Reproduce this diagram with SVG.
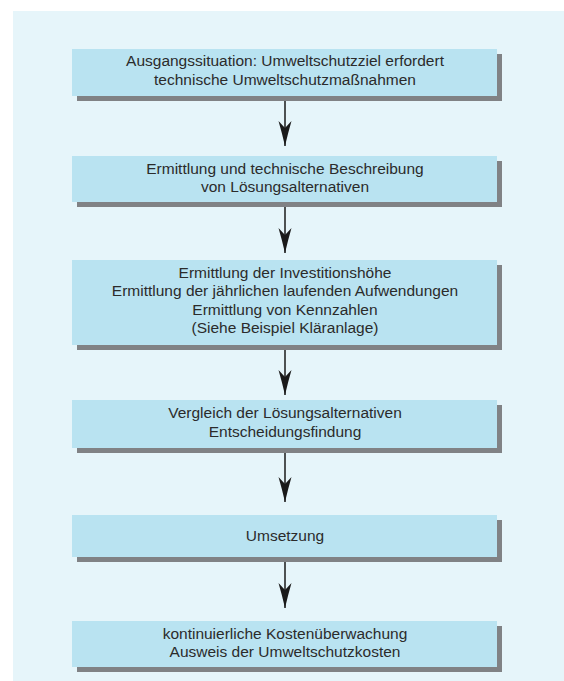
<svg xmlns="http://www.w3.org/2000/svg" width="564" height="681" viewBox="0 0 564 681">
  <style>
    .panel { fill: #e6f5fa; }
    .box { fill: #b9e3f1; }
    .shadow { fill: #808285; }
    .label { font-family: "Liberation Sans", Arial, sans-serif; font-size: 15.5px; fill: #2b2b2b; text-anchor: middle; }
    .conn { stroke: #1a1a1a; stroke-width: 1.5; fill: none; marker-end: url(#arrow); }
  </style>
  <defs>
    <marker id="arrow" markerUnits="userSpaceOnUse" markerWidth="26" markerHeight="14" viewBox="0 0 26 14" refX="25" refY="7" orient="auto">
      <path d="M0,0.5 Q12,4 25,7 Q12,10 0,13.5 L7,7 Z" fill="#1a1a1a"/>
    </marker>
  </defs>

  <!-- backdrop panel -->
  <rect class="panel" x="13" y="11" width="551" height="670"/>

  <!-- process steps -->
  <g id="step1">
    <rect class="shadow" x="77" y="54" width="425" height="47"/>
    <rect class="box" x="72" y="49" width="425" height="47"/>
    <text class="label" x="285" y="66">Ausgangssituation: Umweltschutzziel erfordert</text>
    <text class="label" x="285" y="84.5">technische Umweltschutzmaßnahmen</text>
  </g>

  <g id="step2">
    <rect class="shadow" x="77" y="161" width="425" height="46"/>
    <rect class="box" x="72" y="156" width="425" height="46"/>
    <text class="label" x="285" y="173.5">Ermittlung und technische Beschreibung</text>
    <text class="label" x="285" y="192">von Lösungsalternativen</text>
  </g>

  <g id="step3">
    <rect class="shadow" x="77" y="265" width="425" height="85"/>
    <rect class="box" x="72" y="260" width="425" height="85"/>
    <text class="label" x="285" y="277.5">Ermittlung der Investitionshöhe</text>
    <text class="label" x="285" y="296">Ermittlung der jährlichen laufenden Aufwendungen</text>
    <text class="label" x="285" y="314.5">Ermittlung von Kennzahlen</text>
    <text class="label" x="285" y="333">(Siehe Beispiel Kläranlage)</text>
  </g>

  <g id="step4">
    <rect class="shadow" x="77" y="405" width="425" height="48"/>
    <rect class="box" x="72" y="400" width="425" height="48"/>
    <text class="label" x="285" y="418">Vergleich der Lösungsalternativen</text>
    <text class="label" x="285" y="436.5">Entscheidungsfindung</text>
  </g>

  <g id="step5">
    <rect class="shadow" x="77" y="520" width="425" height="42"/>
    <rect class="box" x="72" y="515" width="425" height="42"/>
    <text class="label" x="285" y="540.5">Umsetzung</text>
  </g>

  <g id="step6">
    <rect class="shadow" x="77" y="626" width="425" height="46"/>
    <rect class="box" x="72" y="621" width="425" height="46"/>
    <text class="label" x="285" y="639">kontinuierliche Kostenüberwachung</text>
    <text class="label" x="285" y="657">Ausweis der Umweltschutzkosten</text>
  </g>

  <!-- connectors -->
  <g id="connectors">
    <line class="conn" x1="285" y1="101" x2="285" y2="146"/>
    <line class="conn" x1="285" y1="207" x2="285" y2="253"/>
    <line class="conn" x1="285" y1="350" x2="285" y2="395"/>
    <line class="conn" x1="285" y1="453" x2="285" y2="502"/>
    <line class="conn" x1="285" y1="562" x2="285" y2="608"/>
  </g>
</svg>
